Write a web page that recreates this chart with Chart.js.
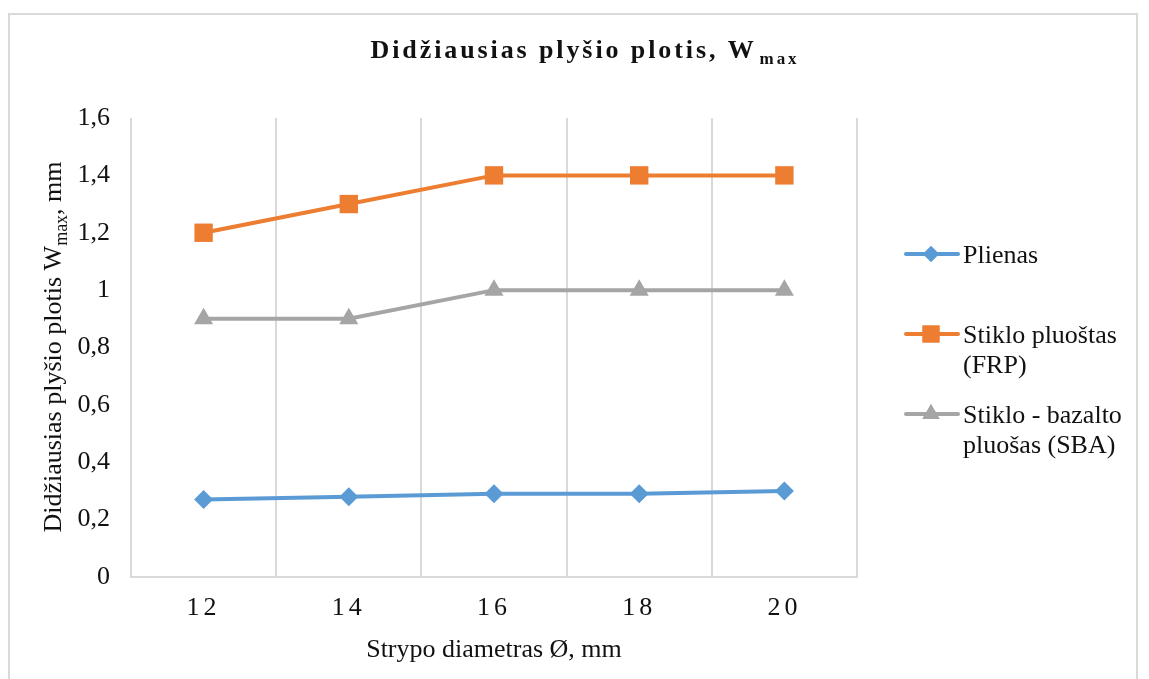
<!DOCTYPE html>
<html>
<head>
<meta charset="utf-8">
<script src="https://cdn.jsdelivr.net/npm/chart.js@4/dist/chart.umd.min.js"></script>
<style>
  html, body { margin: 0; padding: 0; background: #ffffff; }
  #wrap { width: 1149px; height: 679px; }
</style>
</head>
<body>
<div id="wrap"><canvas id="c" width="1149" height="679"></canvas></div>
<script>
// Rod diameters, mm
const diameters = ['12', '14', '16', '18', '20'];
// Maximum crack width, mm
const plienas = [0.27, 0.28, 0.29, 0.29, 0.30];
const stikloFRP = [1.2, 1.3, 1.4, 1.4, 1.4];
const stikloBazaltoSBA = [0.9, 0.9, 1.0, 1.0, 1.0];

const seriesNames = [
  ['Plienas'],
  ['Stiklo pluoštas', '(FRP)'],
  ['Stiklo - bazalto', 'pluošas (SBA)']
];
const titleMain = 'Didžiausias plyšio plotis, W';
const titleSub = 'max';
const yTitleMain = 'Didžiausias plyšio plotis W';
const yTitleSub = 'max';
const yTitleTail = ', mm';
const xTitle = 'Strypo diametras Ø, mm';

const COLORS = ['#5B9BD5', '#ED7D31', '#A5A5A5'];
const SERIF = '"Liberation Serif", "Times New Roman", serif';
const TEXT = '#111111';
const FS = 26;

function fmtTick(v) {
  return String(Number(v.toFixed(1))).replace('.', ',');
}

// Outer frame, title with subscript, rotated y title and the legend
const decorations = {
  id: 'decorations',
  afterUpdate(chart) {
    const sx = chart.scales.x;
    if (sx && !sx._spaced) {
      const orig = sx.drawLabels;
      sx.drawLabels = function (area) {
        const ctx = this.ctx;
        ctx.save();
        ctx.letterSpacing = '4px';
        orig.call(this, area);
        ctx.restore();
      };
      sx._spaced = true;
    }
  },
  beforeDraw(chart) {
    const ctx = chart.ctx;
    ctx.save();
    ctx.fillStyle = '#ffffff';
    ctx.fillRect(0, 0, chart.width, chart.height);
    ctx.strokeStyle = '#d9d9d9';
    ctx.lineWidth = 2;
    ctx.strokeRect(9, 14, 1128, 700);
    ctx.restore();
  },
  afterDraw(chart) {
    const ctx = chart.ctx;
    const area = chart.chartArea;
    ctx.save();
    ctx.fillStyle = TEXT;
    ctx.textBaseline = 'alphabetic';

    // Title
    ctx.letterSpacing = '2.9px';
    ctx.font = 'bold ' + FS + 'px ' + SERIF;
    const wMain = ctx.measureText(titleMain).width;
    ctx.font = 'bold 17px ' + SERIF;
    const wSub = ctx.measureText(titleSub).width;
    const cx = 585;
    const tx = cx - (wMain + wSub + 3) / 2;
    ctx.textAlign = 'left';
    ctx.font = 'bold ' + FS + 'px ' + SERIF;
    ctx.fillText(titleMain, tx, 58);
    ctx.font = 'bold 17px ' + SERIF;
    ctx.fillText(titleSub, tx + wMain + 3, 64);
    ctx.letterSpacing = '0px';

    // Y axis title (rotated)
    ctx.save();
    ctx.translate(61, 347);
    ctx.rotate(-Math.PI / 2);
    ctx.font = FS + 'px ' + SERIF;
    const a = ctx.measureText(yTitleMain).width;
    const c = ctx.measureText(yTitleTail).width;
    ctx.font = '18px ' + SERIF;
    const b = ctx.measureText(yTitleSub).width;
    const yx = -(a + b + c) / 2;
    ctx.font = FS + 'px ' + SERIF;
    ctx.fillText(yTitleMain, yx, 0);
    ctx.font = '18px ' + SERIF;
    ctx.fillText(yTitleSub, yx + a, 6);
    ctx.font = FS + 'px ' + SERIF;
    ctx.fillText(yTitleTail, yx + a + b, 0);
    ctx.restore();

    // X axis title
    ctx.font = FS + 'px ' + SERIF;
    ctx.textAlign = 'center';
    ctx.fillText(xTitle, (area.left + area.right) / 2, 657);

    // Legend
    const legendY = [254, 334, 414];
    const styles = ['rectRot', 'rect', 'triangle'];
    const radii = [8, 12, 10];
    chart.data.datasets.forEach((ds, i) => {
      const y = legendY[i];
      ctx.strokeStyle = COLORS[i];
      ctx.lineWidth = 4;
      ctx.lineCap = 'round';
      ctx.beginPath();
      ctx.moveTo(906, y);
      ctx.lineTo(958, y);
      ctx.stroke();
      ctx.fillStyle = COLORS[i];
      Chart.helpers.drawPoint(ctx, { pointStyle: styles[i], radius: radii[i], rotation: 0, borderWidth: 0 }, 931, y);
      ctx.fill();
      ctx.fillStyle = TEXT;
      ctx.font = FS + 'px ' + SERIF;
      ctx.textAlign = 'left';
      ctx.textBaseline = 'alphabetic';
      seriesNames[i].forEach((line, k) => {
        ctx.fillText(line, 963, y + 9 + k * 30);
      });
    });
    ctx.restore();
  }
};

new Chart(document.getElementById('c'), {
  type: 'line',
  data: {
    labels: diameters,
    datasets: [
      {
        label: seriesNames[0].join(' '),
        data: plienas,
        borderColor: COLORS[0],
        backgroundColor: COLORS[0],
        borderWidth: 4,
        pointStyle: 'rectRot',
        pointRadius: 9.5,
        pointBorderWidth: 0
      },
      {
        label: seriesNames[1].join(' '),
        data: stikloFRP,
        borderColor: COLORS[1],
        backgroundColor: COLORS[1],
        borderWidth: 4,
        pointStyle: 'rect',
        pointRadius: 13,
        pointBorderWidth: 0
      },
      {
        label: seriesNames[2].join(' '),
        data: stikloBazaltoSBA,
        borderColor: COLORS[2],
        backgroundColor: COLORS[2],
        borderWidth: 4,
        pointStyle: 'triangle',
        pointRadius: 11,
        pointBorderWidth: 0
      }
    ]
  },
  options: {
    responsive: false,
    animation: false,
    events: [],
    layout: { padding: { left: 0, right: 292, top: 118, bottom: 0 } },
    plugins: {
      legend: { display: false },
      title: { display: false },
      tooltip: { enabled: false }
    },
    scales: {
      x: {
        type: 'category',
        offset: true,
        grid: {
          display: true,
          offset: true,
          color: '#d9d9d9',
          lineWidth: 2,
          drawTicks: false
        },
        border: { display: true, color: '#d9d9d9', width: 2 },
        ticks: {
          color: TEXT,
          font: { family: SERIF, size: FS },
          padding: 16,
          maxRotation: 0
        },
        afterFit(scale) { scale.height = 102; }
      },
      y: {
        min: 0,
        max: 1.6,
        grid: { display: false, drawTicks: false },
        border: { display: false },
        ticks: {
          stepSize: 0.2,
          color: TEXT,
          font: { family: SERIF, size: FS },
          padding: 21,
          callback: (v) => fmtTick(v)
        },
        afterFit(scale) { scale.width = 131; }
      }
    }
  },
  plugins: [decorations]
});
</script>
</body>
</html>
